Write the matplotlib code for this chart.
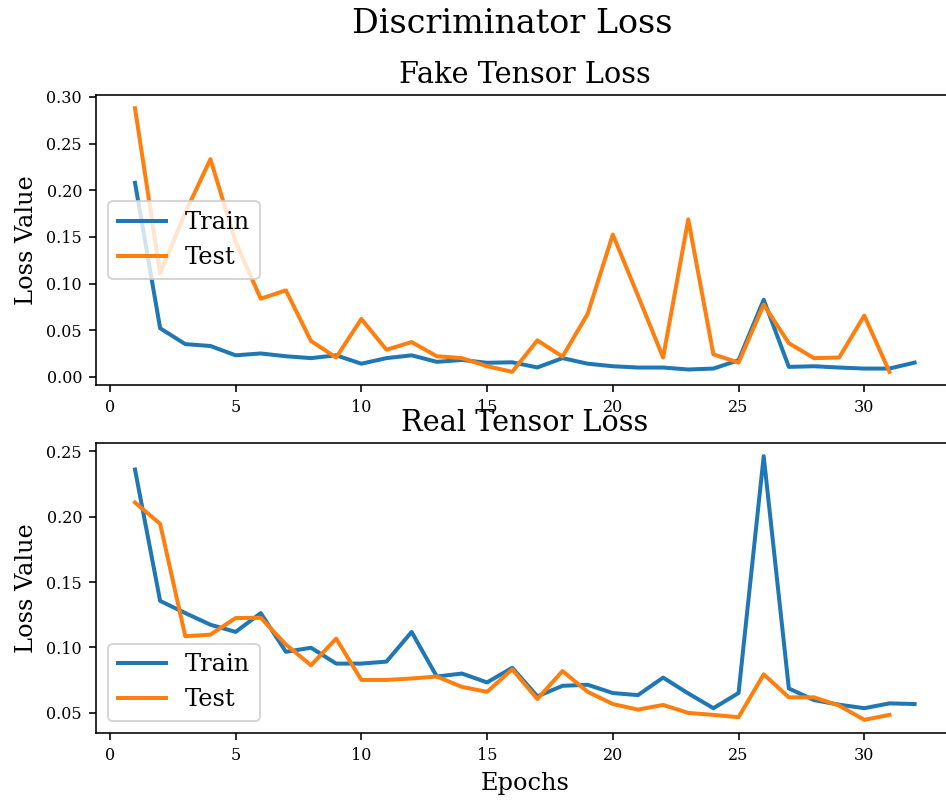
import matplotlib
matplotlib.use("Agg")
import matplotlib.pyplot as plt
from matplotlib.ticker import MultipleLocator

plt.rcParams["font.family"] = "DejaVu Serif"

fake_train = [0.208, 0.052, 0.035, 0.033, 0.023, 0.025, 0.022, 0.020, 0.023, 0.014,
              0.020, 0.023, 0.016, 0.018, 0.015, 0.0155, 0.010, 0.020, 0.014, 0.0113,
              0.0099, 0.0099, 0.0078, 0.0088, 0.0177, 0.0826, 0.0106, 0.0113, 0.0099, 0.0088,
              0.0088, 0.0152]
fake_test = [0.288, 0.111, 0.176, 0.2333, 0.1447, 0.0837, 0.0926, 0.0383, 0.0206, 0.062,
             0.029, 0.0372, 0.022, 0.020, 0.0113, 0.0053, 0.039, 0.0216, 0.0674, 0.1525,
             0.087, 0.0206, 0.1688, 0.024, 0.0152, 0.0773, 0.036, 0.020, 0.0206, 0.0656,
             0.0053]
real_train = [0.236, 0.1356, 0.1263, 0.1174, 0.1119, 0.1263, 0.0967, 0.0998, 0.0877, 0.0877,
              0.0892, 0.1119, 0.0778, 0.0801, 0.0733, 0.0845, 0.0627, 0.0707, 0.0715, 0.0652,
              0.0636, 0.077, 0.0649, 0.0536, 0.0652, 0.2462, 0.0687, 0.0598, 0.0563, 0.0536,
              0.0573, 0.0568]
real_test = [0.2108, 0.1945, 0.1086, 0.1098, 0.1225, 0.1227, 0.1023, 0.0864, 0.1068, 0.0752,
             0.0752, 0.0763, 0.0778, 0.0699, 0.0661, 0.0833, 0.0606, 0.082, 0.0661, 0.0568,
             0.0525, 0.0561, 0.050, 0.0485, 0.0467, 0.0795, 0.0619, 0.0619, 0.0556, 0.0447,
             0.0485]


def plot_panel(ax, train, test, title, legend_loc):
  ax.plot(range(1, len(train) + 1), train, label="Train", lw=2)
  ax.plot(range(1, len(test) + 1), test, label="Test", lw=2)
  ax.set_title(title, fontsize=14.4)
  ax.set_ylabel("Loss Value", fontsize=12)
  ax.tick_params(labelsize=8)
  ax.yaxis.set_major_locator(MultipleLocator(0.05))
  ax.legend(loc=legend_loc, fontsize=12)


def main():
  fig, (ax1, ax2) = plt.subplots(2, 1, figsize=(946 / 144, 805 / 144), dpi=144)
  # axes run slightly past the right edge, as in the original crop
  fig.subplots_adjust(left=0.1015, right=1.008, top=0.882, bottom=0.0894, hspace=0.2)
  fig.suptitle("Discriminator Loss", fontsize=16.7, x=0.541, y=0.99)

  plot_panel(ax1, fake_train, fake_test, "Fake Tensor Loss", "center left")
  plot_panel(ax2, real_train, real_test, "Real Tensor Loss", "lower left")
  ax2.set_xlabel("Epochs", fontsize=12)

  fig.savefig("out.png", dpi=144)


if __name__ == "__main__":
  main()
